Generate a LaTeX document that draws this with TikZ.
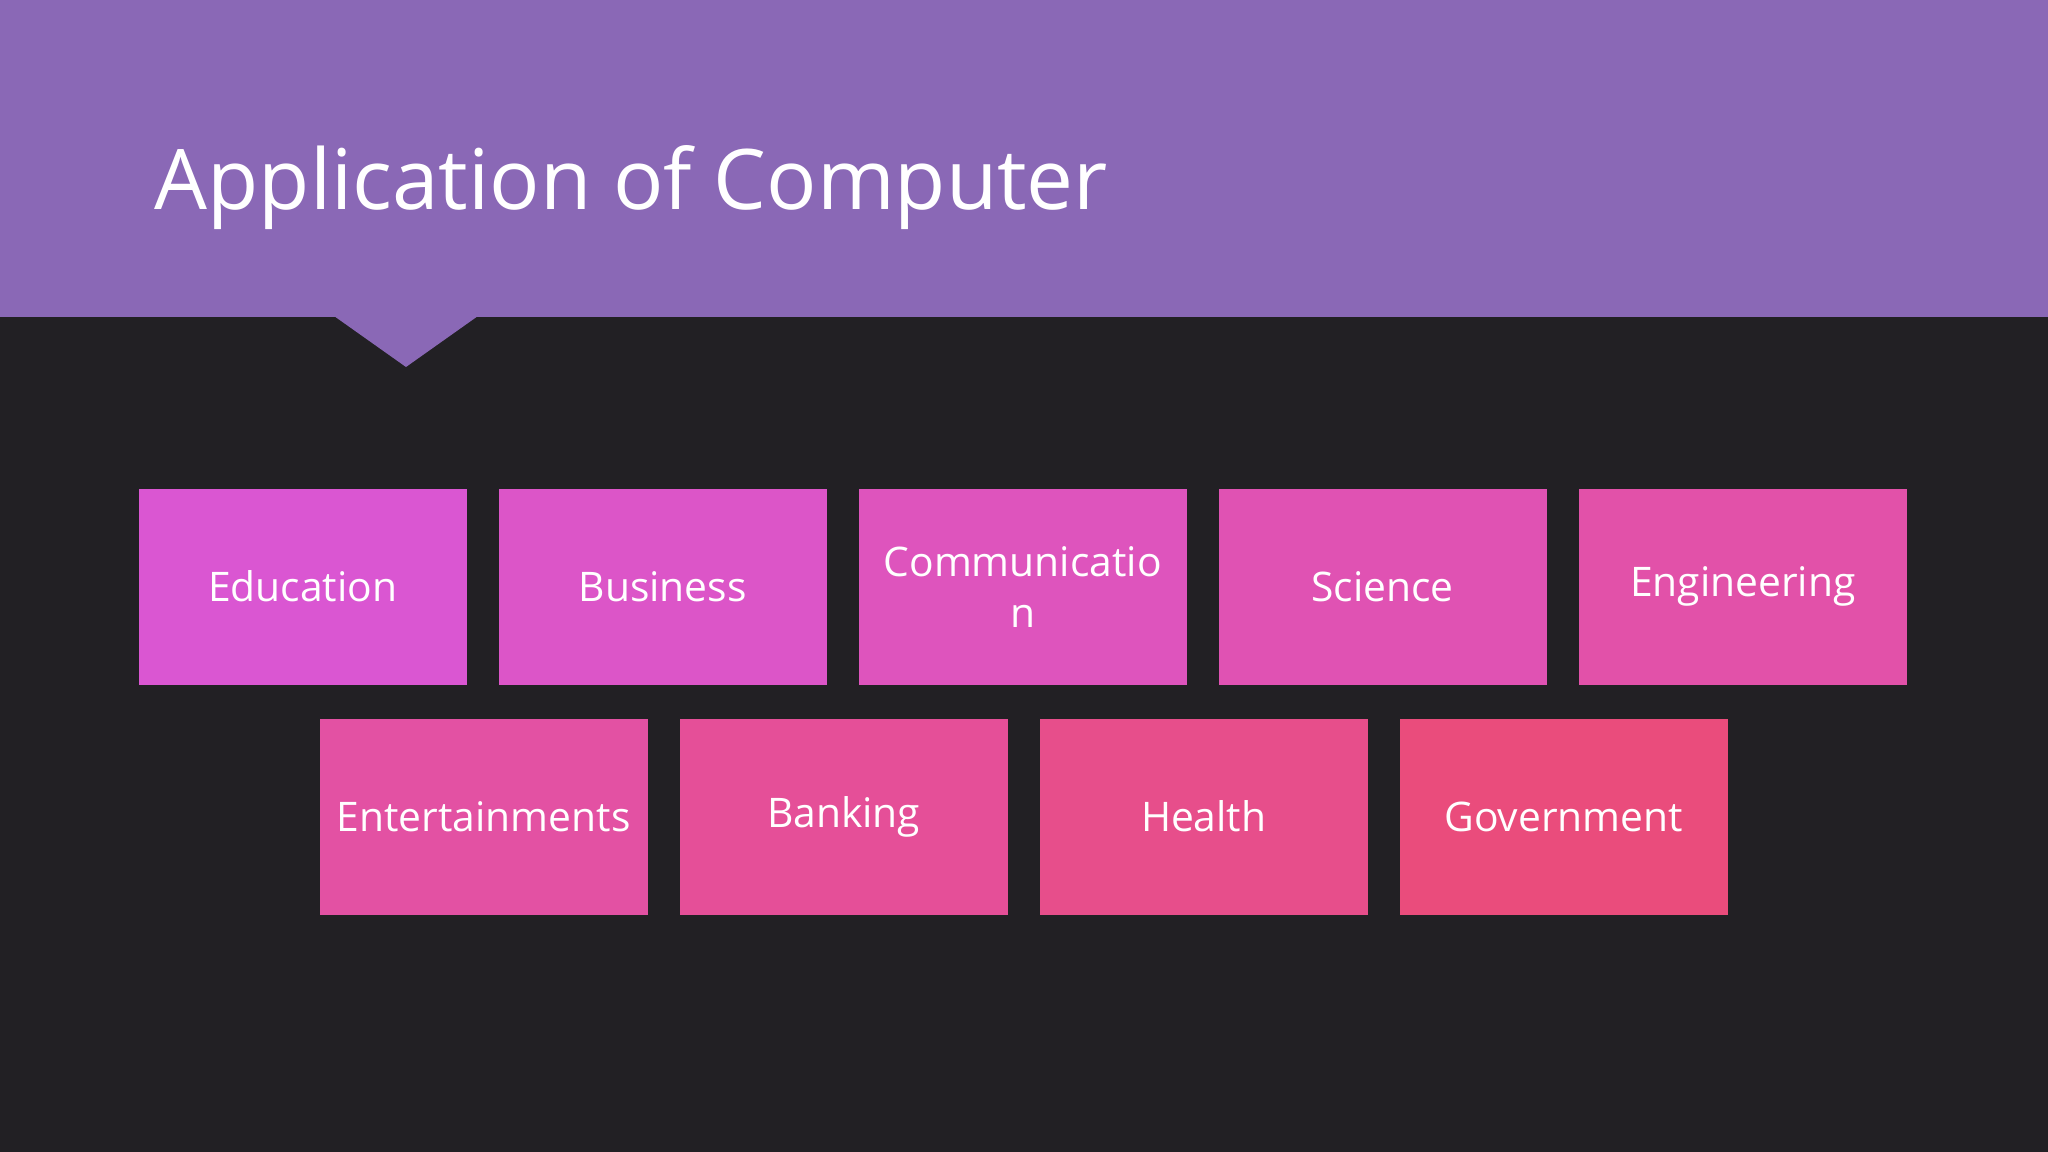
\documentclass[tikz,border=0pt]{standalone}
\usepackage{fontspec}
\setmainfont{Open Sans}
\usetikzlibrary{positioning}
\definecolor{slatebg}{RGB}{34,32,36}
\definecolor{headpurple}{RGB}{138,104,182}
\definecolor{tileA}{RGB}{218,86,210}
\definecolor{tileB}{RGB}{234,76,124}
\tikzset{
  tile/.style={minimum width=3.28cm, minimum height=1.96cm, inner sep=0pt, text width=3.2cm,
    text=white, font=\fontsize{11.6}{14.5}\selectfont, align=center, anchor=north west}
}
\begin{document}
\begin{tikzpicture}[x=1cm,y=-1cm]
    % Background and header
	\fill[slatebg] (0,0) rectangle (20.48,11.52);
	\fill[headpurple] (0,0) rectangle (20.48,3.17);
	\fill[headpurple] (3.34,3.16) -- (4.06,3.67) -- (4.78,3.16) -- cycle;
	\node (title) [anchor=base west, inner sep=0pt, text=white, font=\fontsize{23.8}{28}\selectfont] at (1.54,2.10) {Application of Computer};

	% First row
	\foreach \name/\txt/\m [count=\i from 0] in {edu/Education/100, bus/Business/88, com/{Communicatio\\n}/76, sci/Science/64, eng/Engineering/52} {
		\colorlet{tc}{tileA!\m!tileB}
		\node (\name) [tile, fill=tc] at (1.38+3.60*\i,4.88) {\txt};
	}
	% Second row
	\foreach \name/\txt/\m [count=\i from 0] in {ent/Entertainments/45, ban/Banking/32, hea/Health/18, gov/Government/0} {
		\colorlet{tc}{tileA!\m!tileB}
		\node (\name) [tile, fill=tc] at (3.19+3.60*\i,7.18) {\txt};
	}
\end{tikzpicture}
\end{document}
